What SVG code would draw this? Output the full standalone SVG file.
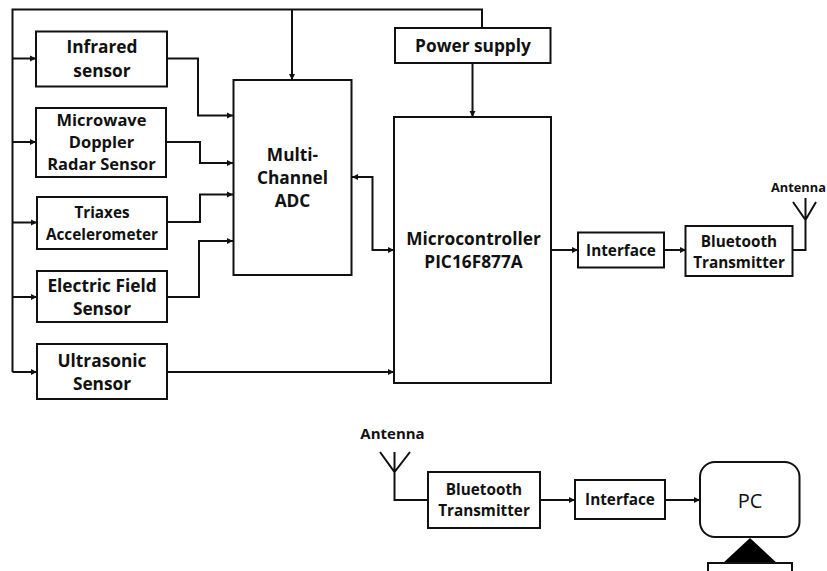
<svg xmlns="http://www.w3.org/2000/svg" width="827" height="571" viewBox="0 0 827 571">
<style>
.b{fill:#fff;stroke:#111;stroke-width:2}
.c{fill:none;stroke:#111;stroke-width:2}
.t{font-family:"Open Sans","Liberation Sans",sans-serif;font-weight:700;font-size:17.3px;fill:#111;text-anchor:middle}
.s{font-size:15.3px}
.m{font-size:16.5px}
.a{font-size:15px}
</style>
<defs>
<marker id="ah" markerUnits="userSpaceOnUse" markerWidth="7" markerHeight="7" refX="6" refY="3.5" orient="auto-start-reverse"><path d="M0 0.500L6 3.500L0 6.500Z" fill="#111"/></marker>
</defs>
<rect width="827" height="571" fill="#fff"/>
<g id="connectors">
<path class="c" d="M482 28V9.500H12.500V372"/>
<path class="c" d="M292 9.500V80" marker-end="url(#ah)"/>
<path class="c" d="M12.500 58.500H36" marker-end="url(#ah)"/>
<path class="c" d="M12.500 142H36" marker-end="url(#ah)"/>
<path class="c" d="M12.500 222.500H37" marker-end="url(#ah)"/>
<path class="c" d="M12.500 297H37" marker-end="url(#ah)"/>
<path class="c" d="M12.500 372H37" marker-end="url(#ah)"/>
<path class="c" d="M167 58.500H198V115.500H233" marker-end="url(#ah)"/>
<path class="c" d="M166 142H200V163H233" marker-end="url(#ah)"/>
<path class="c" d="M167 222H200V194.500H233" marker-end="url(#ah)"/>
<path class="c" d="M167 297H199V241H233" marker-end="url(#ah)"/>
<path class="c" d="M167 372H394" marker-end="url(#ah)"/>
<path class="c" d="M472.500 63V117" marker-end="url(#ah)"/>
<path class="c" d="M352 177H372.500V250H394" marker-start="url(#ah)" marker-end="url(#ah)"/>
<path class="c" d="M551 250H578" marker-end="url(#ah)"/>
<path class="c" d="M664 250H686" marker-end="url(#ah)"/>
<path class="c" d="M792 250H805.500V198M793 202L805.500 220L816 202"/>
<path class="c" d="M428 500H394.500V452M380 452L394.500 472L410 452"/>
<path class="c" d="M540 500H575" marker-end="url(#ah)"/>
<path class="c" d="M665 500H700" marker-end="url(#ah)"/>
</g>
<g id="infrared"><rect class="b" x="36" y="31.500" width="131" height="55"/><text class="t" x="102" y="53">Infrared</text><text class="t" x="102" y="77">sensor</text></g>
<g id="microwave"><rect class="b" x="36" y="108" width="130" height="69"/><text class="t m" x="101.500" y="126">Microwave</text><text class="t m" x="101.500" y="148">Doppler</text><text class="t m" x="101.500" y="170">Radar Sensor</text></g>
<g id="triaxes"><rect class="b" x="37" y="197" width="130" height="52"/><text class="t s" x="102" y="218">Triaxes</text><text class="t s" x="102" y="240">Accelerometer</text></g>
<g id="electric"><rect class="b" x="37" y="271" width="130" height="51"/><text class="t" x="102" y="292">Electric Field</text><text class="t" x="102" y="315">Sensor</text></g>
<g id="ultrasonic"><rect class="b" x="37" y="344" width="130" height="55"/><text class="t" x="102" y="367">Ultrasonic</text><text class="t" x="102" y="390">Sensor</text></g>
<g id="adc"><rect class="b" x="233.500" y="80" width="118" height="195"/><text class="t" x="292.500" y="161">Multi-</text><text class="t" x="292.500" y="184">Channel</text><text class="t" x="292.500" y="207">ADC</text></g>
<g id="power"><rect class="b" x="395" y="28" width="155.500" height="35"/><text class="t" x="473" y="52">Power supply</text></g>
<g id="mcu"><rect class="b" x="394" y="117" width="157" height="266"/><text class="t" x="473.500" y="245">Microcontroller</text><text class="t" x="473.500" y="268">PIC16F877A</text></g>
<g id="interface1"><rect class="b" x="578" y="232.500" width="86" height="35"/><text class="t s" x="621" y="256">Interface</text></g>
<g id="bt1"><rect class="b" x="685.500" y="226" width="107" height="50"/><text class="t s" x="739" y="247">Bluetooth</text><text class="t s" x="739" y="268">Transmitter</text></g>
<g id="antenna1"><text class="t" x="771" y="192" style="text-anchor:start;font-size:12.800px">Antenna</text></g>
<g id="antenna2"><text class="t a" x="392.500" y="439">Antenna</text></g>
<g id="bt2"><rect class="b" x="428" y="472" width="112" height="56"/><text class="t s" x="484" y="495">Bluetooth</text><text class="t s" x="484" y="516">Transmitter</text></g>
<g id="interface2"><rect class="b" x="575" y="480" width="90" height="39"/><text class="t s" x="620" y="505">Interface</text></g>
<g id="pc"><rect class="b" x="700" y="462" width="99.500" height="75" rx="15"/><text x="750" y="508" style="font-family:'Open Sans','Liberation Sans',sans-serif;font-size:20px;fill:#111;text-anchor:middle">PC</text></g>
<g id="stand"><path d="M750 538L778 564H722Z" fill="#000"/><rect class="b" x="708" y="563" width="84" height="20"/></g>
</svg>
